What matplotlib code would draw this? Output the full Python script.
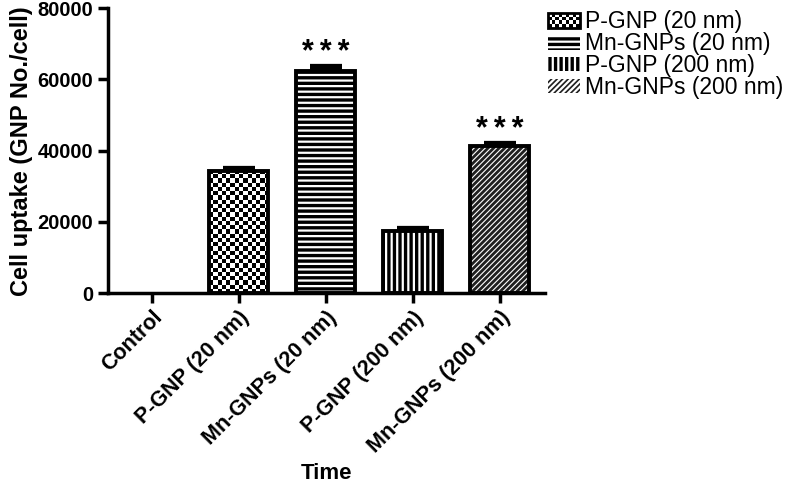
import numpy as np
import matplotlib
matplotlib.use("Agg")
import matplotlib.pyplot as plt
from matplotlib.patches import Rectangle, Patch
from matplotlib.legend_handler import HandlerBase

plt.rcParams['font.family'] = ['Liberation Sans', 'DejaVu Sans']
plt.rcParams['hatch.linewidth'] = 1.6

categories = ['Control', 'P-GNP (20 nm)', 'Mn-GNPs (20 nm)', 'P-GNP (200 nm)', 'Mn-GNPs (200 nm)']
uptake = [0, 34300, 62500, 17400, 41300]
uptake_err = [0, 700, 1000, 600, 600]
significance = ['', '', '***', '', '***']
legend_labels = categories[1:]


class CheckerHandler(HandlerBase):
    # draws a small checkerboard swatch for the legend
    def create_artists(self, legend, orig_handle, xdescent, ydescent,
                       width, height, fontsize, trans):
        artists = [Rectangle((-xdescent, -ydescent), width, height,
                             facecolor='white', edgecolor='none', transform=trans)]
        nx, ny = 9, 4
        cw, ch = width / nx, height / ny
        for i in range(nx):
            for j in range(ny):
                if (i + j) % 2 == 0:
                    artists.append(Rectangle((-xdescent + i * cw, -ydescent + j * ch), cw, ch,
                                             facecolor='black', edgecolor='none', transform=trans))
        artists.append(Rectangle((-xdescent, -ydescent), width, height, facecolor='none',
                                 edgecolor='black', linewidth=2, transform=trans))
        return artists


fig = plt.figure(figsize=(7.93, 4.83), dpi=100)
ax = fig.add_axes([0.136, 0.393, 0.551, 0.590])

x = np.arange(len(categories))
width = 0.68

# error bars (upper only) drawn behind the bars, skip empty control
has_bar = np.array(uptake) > 0
ax.errorbar(x[has_bar], np.array(uptake)[has_bar],
            yerr=[np.zeros(has_bar.sum()), np.array(uptake_err)[has_bar]], fmt='none',
            ecolor='black', elinewidth=2, capsize=11.5, capthick=4.5, zorder=1)

# P-GNP (20 nm): checkerboard
b = ax.bar(x[1], uptake[1], width, color='white', edgecolor='none', zorder=2)[0]
cell = 1200
ny = int(round(uptake[1] / cell))
checker = (np.indices((ny, 14)).sum(axis=0) % 2).astype(float)
im = ax.imshow(checker, cmap='gray', interpolation='nearest', aspect='auto',
               extent=[x[1] - width / 2, x[1] + width / 2, 0, uptake[1]], zorder=2.5)
im.set_clip_path(b)

# Mn-GNPs (20 nm): horizontal lines
ax.bar(x[2], uptake[2], width, color='black', edgecolor='white', hatch='---', linewidth=0, zorder=2)
# P-GNP (200 nm): vertical lines
ax.bar(x[3], uptake[3], width, color='black', edgecolor='white', hatch='|||', linewidth=0, zorder=2)
# Mn-GNPs (200 nm): diagonal lines
with plt.rc_context({'hatch.linewidth': 0.8}):
    ax.bar(x[4], uptake[4], width, color='#202020', edgecolor='white', hatch='//////', linewidth=0, zorder=2)

# outlines
ax.bar(x[1:], uptake[1:], width, fill=False, edgecolor='black', linewidth=2.8, zorder=3)

for xi, v, e, s in zip(x, uptake, uptake_err, significance):
    if s:
        ax.text(xi, v + e - 200, '\u2009'.join(s), ha='center', va='bottom',
                fontsize=22, fontweight='bold')

ax.set_xlim(-0.505, 4.52)
ax.set_ylim(0, 80000)
ax.set_yticks([0, 20000, 40000, 60000, 80000])
ax.set_xticks(x)
ax.set_xticklabels(categories, rotation=45, ha='right', rotation_mode='anchor',
                   fontsize=15.5, fontweight='bold')
for lbl in ax.get_yticklabels():
    lbl.set_fontweight('bold')
    lbl.set_fontsize(14.5)
ax.tick_params(axis='both', width=2.5, length=7, direction='out')
ax.tick_params(axis='x', pad=3)
for side in ['top', 'right']:
    ax.spines[side].set_visible(False)
for side in ['left', 'bottom']:
    ax.spines[side].set_linewidth(2.5)

ax.set_ylabel('Cell uptake (GNP No./cell)', fontsize=17, fontweight='bold', labelpad=3)
ax.set_xlabel('Time', fontsize=16, fontweight='bold')
ax.xaxis.set_label_coords(0.5, -0.595)

handles = [
    Patch(facecolor='white', edgecolor='black'),
    Patch(facecolor='black', edgecolor='white', hatch='---', linewidth=0),
    Patch(facecolor='black', edgecolor='white', hatch='|||', linewidth=0),
    Patch(facecolor='#202020', edgecolor='white', hatch='//////', linewidth=0),
]
fig.legend(handles, legend_labels, loc='upper left', bbox_to_anchor=(0.665, 1.021),
           frameon=False, fontsize=16.5, handlelength=1.4, handleheight=0.6,
           handletextpad=0.2, labelspacing=-0.05,
           handler_map={handles[0]: CheckerHandler()})

fig.savefig('out.png', dpi=100)
